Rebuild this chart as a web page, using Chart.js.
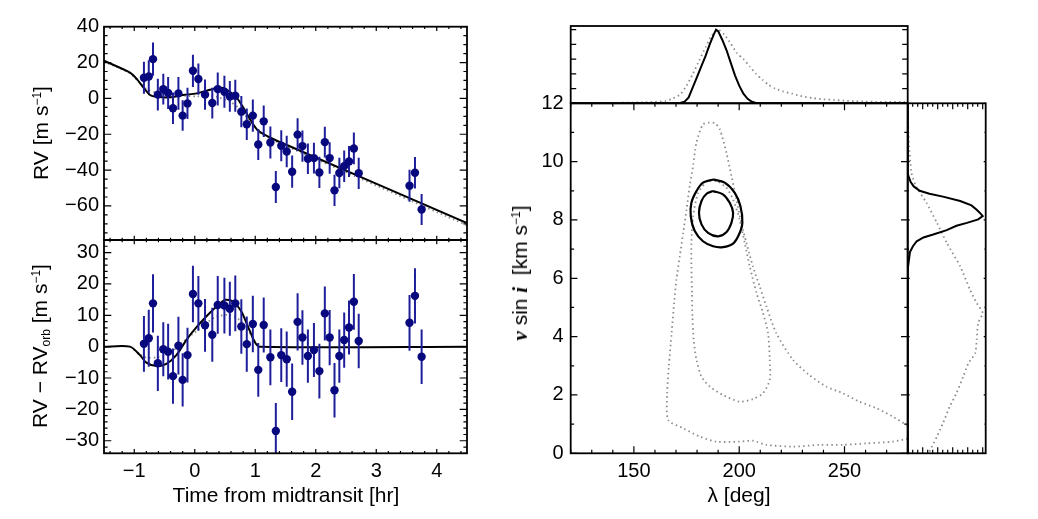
<!DOCTYPE html>
<html><head><meta charset="utf-8">
<script src="https://cdn.jsdelivr.net/npm/chart.js@4.4.1/dist/chart.umd.min.js"></script>
<style>
html,body{margin:0;padding:0;background:#fff;}
#wrap{position:relative;width:1038px;height:519px;overflow:hidden;font-family:'Liberation Sans',Arial,Helvetica,sans-serif;}
canvas{position:absolute;}
.t{position:absolute;white-space:nowrap;font-size:21px;color:#000;line-height:1;}
.r{transform:translate(-50%,-50%) rotate(-90deg);}
.h{transform:translate(-50%,-50%);}
sup{font-size:12px;vertical-align:0.55em;line-height:0;}
sub{font-size:12px;vertical-align:-0.25em;line-height:0;}
.s{font-family:'Liberation Serif','DejaVu Serif',serif;font-weight:bold;font-style:italic;}
</style></head>
<body><div id="wrap">
<canvas id="cTop"></canvas>
<canvas id="cBot"></canvas>
<canvas id="cMain"></canvas>
<canvas id="cTopH"></canvas>
<canvas id="cRightH"></canvas>
<div class="t h" style="left:286px;top:494px">Time from midtransit [hr]</div>
<div class="t h" style="left:739px;top:494px">λ [deg]</div>
<div class="t r" style="left:40px;top:133px">RV [m s<sup>−1</sup>]</div>
<div class="t r" style="left:39px;top:346px">RV − RV<sub>orb</sub> [m s<sup>−1</sup>]</div>
<div class="t r" style="left:520px;top:273px"><span class="s">v</span> sin <span class="s">i</span>&nbsp; [km s<sup>−1</sup>]</div>
</div>
<script>
// ---------- RV data ----------
const time = [-0.84,-0.76,-0.69,-0.61,-0.52,-0.44,-0.36,-0.27,-0.20,-0.12,-0.03,0.06,0.17,0.29,0.38,0.49,0.58,0.67,0.77,0.86,0.96,1.05,1.14,1.25,1.34,1.43,1.52,1.61,1.70,1.78,1.87,1.97,2.06,2.15,2.23,2.31,2.39,2.47,2.55,2.63,2.71,3.55,3.64,3.75];
const rv = [11.5,12.2,21.9,2.1,5.2,3.0,-5.5,2.8,-9.6,-2.8,15.4,10.8,2.1,-2.6,5.2,3.7,1.1,1.5,-7.4,-14.4,-9.6,-25.7,-12.8,-24.6,-49.4,-26.4,-29.6,-40.9,-20.2,-26.6,-33.7,-33.3,-41.3,-24.4,-33.3,-51.3,-41.6,-37.8,-35.2,-27.9,-41.8,-48.7,-41.5,-62.0];
const resid = [0.9,2.7,13.8,-5.3,-0.8,-1.6,-9.4,0.3,-10.6,-2.7,16.8,13.8,6.8,3.8,13.3,13.1,12.1,13.8,6.4,0.8,7.2,-7.4,6.9,-3.4,-26.9,-2.7,-4.0,-14.4,7.9,2.9,-3.0,-1.1,-7.8,10.6,2.9,-13.9,-3.0,2.1,6.1,14.3,1.8,7.6,16.2,-3.2];
const err = [8.9,9.1,9.3,8.8,8.6,8.9,8.8,9.2,8.5,8.7,9.0,8.7,8.4,8.6,9.2,8.9,8.6,8.9,8.7,8.8,9.0,8.6,8.8,8.9,8.9,8.6,8.8,9.0,9.1,8.7,8.5,8.6,8.7,8.6,8.8,8.7,8.5,8.8,8.6,8.9,8.7,8.9,8.8,8.7];

// model curves
const topModelT = [-1.5,-1.07,-0.95,-0.85,-0.74,-0.63,-0.41,-0.19,0.03,0.25,0.39,0.47,0.58,0.69,0.80,0.91,1.02,1.13,1.35,1.57,4.5];
const topModelRV = [21.0,14.4,10.5,6.1,1.9,0.9,0.6,1.9,2.8,4.8,5.9,5.8,3.7,0.6,-5.0,-11.5,-17.0,-19.8,-23.5,-26.7,-69.6];
const topDotT = [-1.5,-1.07,-0.9,-0.8,-0.63,-0.41,-0.19,0.03,0.19,0.36,0.58,0.74,0.91,1.07,1.35,1.57,4.5];
const topDotRV = [20.5,14.0,8.3,5.3,3.2,2.5,1.6,1.1,1.2,0.9,-1.8,-5.7,-12.4,-19.0,-24.2,-27.5,-70.8];
const botModelT = [-1.5,-1.07,-0.91,-0.8,-0.63,-0.47,-0.3,-0.14,0.03,0.19,0.36,0.5,0.63,0.77,0.88,0.99,1.07,4.5];
const botModelRV = [0,0,-2.6,-5.1,-6.2,-5.5,-2.6,2.1,6.2,9.6,12.8,14.9,14.4,11.2,6.4,1.6,0,0];
const botDotT = [-1.07,-0.9,-0.8,-0.63,-0.41,-0.19,0.03,0.19,0.36,0.58,0.74,0.91,1.0,1.07];
const botDotRV = [0,-2.5,-3.5,-3.4,-2.1,1.6,5.0,7.5,9.6,10.1,8.5,4.3,1.5,0];

// ---------- contour data (lambda, vsini) ----------
const c95DotLam = [280,272.9,265.0,257.1,249.2,241.3,233.0,225.5,217.6,212.9,209.7,206.5,203.4,201.0,198.7,196.3,193.9,190.8,188.4,186.0,182.8,179.7,178.1,176.5,175.0,173.4,171.8,170.2,169.1,167.9,166.6,165.8,166.3,173.4,181.3,189.2,200.2,206.5,212.9,225.5,238.2,249.2,260.3,272.9,280];
const c95DotV = [0.95,1.26,1.55,1.77,2.06,2.29,2.7,3.21,4.12,5.04,5.73,6.41,7.22,7.90,8.70,9.51,10.31,11.11,11.32,11.34,11.28,10.65,9.85,9.16,8.36,7.56,6.76,5.96,5.15,4.12,2.98,2.06,1.14,0.86,0.57,0.40,0.40,0.43,0.29,0.23,0.29,0.29,0.34,0.40,0.5];
const c68DotLam = [184.5,180.5,178.1,177.3,177.3,177.6,177.8,178.4,179.7,182.1,186.0,192.3,200.2,206.5,211.3,214.5,214.5,213.7,211.3,208.2,205.0,202.6,200.2,197.1,193.9,189.2,184.5];
const c68DotV = [9.33,8.93,8.13,7.22,6.41,5.50,4.69,3.89,3.21,2.63,2.29,2.00,1.77,1.86,2.06,2.52,3.21,4.12,4.81,5.50,6.41,7.22,8.02,8.70,9.11,9.33,9.33];
const c68Lam = [187.6,192.3,195.5,197.1,196.3,193.9,190.0,185.2,182.1,180.9,182.1,184.5,187.6];
const c68V = [8.99,8.88,8.59,8.25,7.90,7.58,7.44,7.56,7.85,8.25,8.65,8.90,8.99];
const c95Lam = [187.6,193.1,197.9,200.6,201.5,199.9,197.1,192.3,187.6,182.8,178.9,177.0,177.3,179.7,182.8,187.6];
const c95V = [9.39,9.28,8.93,8.47,7.90,7.50,7.19,7.07,7.10,7.27,7.62,8.13,8.59,8.99,9.28,9.39];

// ---------- marginal histograms ----------
const topHistLam = [120,130,140,150,155,160,165,168,170,172,174,176,178,180,182,184,186,188,189,190,192,194,196,198,200,202,204,206,208,210,215,220,230,240,250,260,270,280];
const topHistSolid = [0,0,0,0,0,0,0,0,0,0.005,0.02,0.08,0.22,0.36,0.5,0.64,0.8,0.94,1.0,0.98,0.86,0.72,0.55,0.38,0.24,0.13,0.06,0.02,0.005,0,0,0,0,0,0,0,0,0];
const topDotLam = [120,130,140,150,155,160,165,168,172,175,178,181,184,187,190,193,196,199,202,205,208,211,214,217,221,225,229,235,240,245,250,255,260,265,270,275,280];
const topHistDot = [0.003,0.004,0.006,0.01,0.013,0.02,0.03,0.06,0.12,0.24,0.4,0.58,0.76,0.92,1.0,0.93,0.81,0.68,0.6,0.5,0.4,0.32,0.25,0.2,0.16,0.13,0.1,0.07,0.055,0.045,0.035,0.028,0.023,0.02,0.02,0.018,0.017];
const rightV = [12,11,10,9.6,9.5,9.3,9.15,9.0,8.9,8.8,8.65,8.5,8.35,8.25,8.13,8.02,7.9,7.8,7.65,7.5,7.4,7.27,7.1,6.9,6.5,6.3,5,0];
const rightHistSolid = [0,0,0,0,0.01,0.04,0.08,0.16,0.29,0.47,0.70,0.85,0.92,0.96,1.0,0.94,0.79,0.65,0.52,0.34,0.21,0.12,0.07,0.03,0.01,0,0,0];
const rightDotV = [12,11.5,11,10.5,10,9.6,9.16,8.59,7.9,7.22,6.41,5.61,5.15,4.81,4.47,3.89,3.43,3.09,2.63,2.06,1.6,1.03,0.57,0.11,0];
const rightHistDot = [0.003,0.005,0.01,0.02,0.035,0.05,0.11,0.25,0.39,0.52,0.70,0.83,0.92,1.0,0.94,0.92,0.9,0.81,0.74,0.65,0.56,0.47,0.39,0.3,0.28];

// tick labels
const xTicksTime = [-1,0,1,2,3,4];
const yTicksRV = [-60,-40,-20,0,20,40];
const yTicksRes = [-30,-20,-10,0,10,20,30];
const xTicksLam = [150,200,250];
const yTicksV = [0,2,4,6,8,10,12];

// ---------- helpers ----------
const FONT = {family:"'Liberation Sans', Arial, Helvetica, sans-serif", size:20};
const NAVY = '#08087e', BAR = '#1e1e9a', GREY = '#8c8c8c';
const pts = (xa, ya) => xa.map((x,i)=>({x:x, y:ya[i]}));
const errBars = (xa, ya, ea) => { const d=[]; xa.forEach((x,i)=>{ d.push({x:x,y:ya[i]-ea[i]},{x:x,y:ya[i]+ea[i]},{x:x,y:null}); }); return d; };
const minus = v => String(v).replace('-', '\u2212');

const inTicks = {
  id:'inTicks',
  afterDatasetsDraw(chart, args, o){
    const {ctx, chartArea:a} = chart;
    ctx.save();
    ctx.strokeStyle = '#000'; ctx.lineWidth = 1.2;
    ctx.beginPath();
    const draw = (scale, c) => {
      if(!c) return;
      const n0 = Math.ceil(scale.min/c.minor - 1e-6), n1 = Math.floor(scale.max/c.minor + 1e-6);
      for(let n=n0;n<=n1;n++){
        const v = n*c.minor, r = v/c.major;
        const len = Math.abs(r-Math.round(r))<1e-6 ? c.majLen : c.minLen;
        const p = scale.getPixelForValue(v);
        c.sides.forEach(s=>{
          if(s==='bottom'){ctx.moveTo(p,a.bottom);ctx.lineTo(p,a.bottom-len);}
          if(s==='top'){ctx.moveTo(p,a.top);ctx.lineTo(p,a.top+len);}
          if(s==='left'){ctx.moveTo(a.left,p);ctx.lineTo(a.left+len,p);}
          if(s==='right'){ctx.moveTo(a.right,p);ctx.lineTo(a.right-len,p);}
        });
      }
    };
    draw(chart.scales.x, o.x); draw(chart.scales.y, o.y);
    ctx.stroke();
    ctx.lineWidth = 1.8;
    ctx.strokeRect(a.left, a.top, a.right-a.left, a.bottom-a.top);
    ctx.restore();
  }
};

function mk(id, box, area, xs, ys, datasets, ticks){
  const cv = document.getElementById(id);
  cv.style.left = box.l+'px'; cv.style.top = box.t+'px';
  cv.width = box.w; cv.height = box.h;
  cv.style.width = box.w+'px'; cv.style.height = box.h+'px';
  const zero = s => { s.paddingLeft=0; s.paddingRight=0; s.paddingTop=0; s.paddingBottom=0; };
  const fitX = s => { s.height = box.t+box.h-area.b; zero(s); };
  const fitY = s => { s.width = area.l-box.l; zero(s); };
  const base = {type:'linear', grid:{display:false, drawTicks:false}, border:{display:false}};
  return new Chart(cv, {
    type:'scatter',
    data:{datasets:datasets},
    options:{
      responsive:false, maintainAspectRatio:false, animation:false, devicePixelRatio:1, events:[],
      layout:{padding:{left:0, top:area.t-box.t, right:box.l+box.w-area.r, bottom:0}},
      plugins:{legend:{display:false}, tooltip:{enabled:false}, inTicks:ticks},
      scales:{
        x:Object.assign({}, base, xs, {afterFit:fitX}),
        y:Object.assign({}, base, ys, {afterFit:fitY})
      }
    },
    plugins:[inTicks]
  });
}
const lineDS = (data, color, width, dash, order, tension) => ({data:data, showLine:true, pointRadius:0, borderColor:color, borderWidth:width, borderDash:dash||[], borderCapStyle:'butt', fill:false, order:order, tension:tension||0, spanGaps:false});
// axis with labelled ticks taken from a tick list
const axis = (min, max, list, pad) => ({min:min, max:max,
  afterBuildTicks: s => { s.ticks = list.map(v=>({value:v})); },
  ticks:{display:true, font:FONT, color:'#000', padding:pad, autoSkip:false, maxRotation:0, minRotation:0, callback:(v)=>minus(v)}});
const bare = (min, max) => ({min:min, max:max, ticks:{display:false}});

// ---------- left top: RV ----------
mk('cTop', {l:20,t:10,w:460,h:240}, {l:104,t:26.7,r:467,b:240},
  bare(-1.5, 4.5),
  axis(-79, 40, yTicksRV, 5),
  [
    {data:pts(time, rv), showLine:false, pointRadius:4.2, pointBackgroundColor:NAVY, pointBorderColor:NAVY, pointBorderWidth:0, order:0},
    lineDS(errBars(time, rv, err), BAR, 2, null, 1),
    lineDS(pts(topModelT, topModelRV), '#000', 2, null, 2, 0.25),
    lineDS(pts(topDotT, topDotRV), GREY, 1.8, [1.5,3], 3, 0.25)
  ],
  {x:{major:1, minor:0.2, majLen:4.3, minLen:2.2, sides:['bottom','top']}, y:{major:20, minor:5, majLen:7.3, minLen:3.6, sides:['left','right']}}
);

// ---------- left bottom: residuals ----------
mk('cBot', {l:20,t:230,w:460,h:270}, {l:104,t:240,r:467,b:453.3},
  axis(-1.5, 4.5, xTicksTime, 6),
  axis(-34, 34, yTicksRes, 5),
  [
    {data:pts(time, resid), showLine:false, pointRadius:4.2, pointBackgroundColor:NAVY, pointBorderColor:NAVY, pointBorderWidth:0, order:0},
    lineDS(errBars(time, resid, err), BAR, 2, null, 1),
    lineDS(pts(botModelT, botModelRV), '#000', 2, null, 2, 0.25),
    lineDS(pts(botDotT, botDotRV), GREY, 1.8, [1.5,3], 3, 0.25)
  ],
  {x:{major:1, minor:0.2, majLen:4.3, minLen:2.2, sides:['bottom','top']}, y:{major:10, minor:2, majLen:7.3, minLen:3.6, sides:['left','right']}}
);

// ---------- right main: contours ----------
mk('cMain', {l:500,t:90,w:420,h:410}, {l:570.7,t:103.3,r:907.7,b:453.3},
  axis(120, 280, xTicksLam, 6),
  axis(0, 12, yTicksV, 7),
  [
    lineDS(pts(c68Lam, c68V), '#000', 2.2, null, 0, 0.35),
    lineDS(pts(c95Lam, c95V), '#000', 2.2, null, 1, 0.35),
    lineDS(pts(c68DotLam, c68DotV), GREY, 1.8, [1.5,3.2], 2, 0.25),
    lineDS(pts(c95DotLam, c95DotV), GREY, 1.8, [1.5,3.2], 3, 0.25)
  ],
  {x:{major:50, minor:10, majLen:7, minLen:3.5, sides:['bottom','top']}, y:{major:2, minor:1, majLen:6.7, minLen:3.4, sides:['left','right']}}
);

// ---------- top marginal (lambda) ----------
mk('cTopH', {l:560,t:16,w:360,h:94}, {l:570.7,t:26,r:907.7,b:103.3},
  bare(120, 280),
  bare(0, 1.05),
  [
    lineDS(pts(topHistLam, topHistSolid), '#000', 2, null, 0, 0),
    lineDS(pts(topDotLam, topHistDot), GREY, 1.8, [1.5,3.2], 1, 0.2)
  ],
  {y:{major:0.2, minor:0.2, majLen:5.5, minLen:5.5, sides:['left','right']}}
);

// ---------- right marginal (vsini) ----------
mk('cRightH', {l:900,t:90,w:110,h:410}, {l:907.7,t:103.3,r:985.7,b:453.3},
  bare(0, 1.04),
  bare(0, 12),
  [
    lineDS(pts(rightHistSolid, rightV), '#000', 2, null, 0, 0),
    lineDS(pts(rightHistDot, rightDotV), GREY, 1.8, [1.5,3.2], 1, 0.2)
  ],
  {x:{major:0.2, minor:0.2/3, majLen:6, minLen:3.5, sides:['bottom','top']}, y:{major:2, minor:1, majLen:2, minLen:1.2, sides:['left','right']}}
);
</script>
</body></html>
